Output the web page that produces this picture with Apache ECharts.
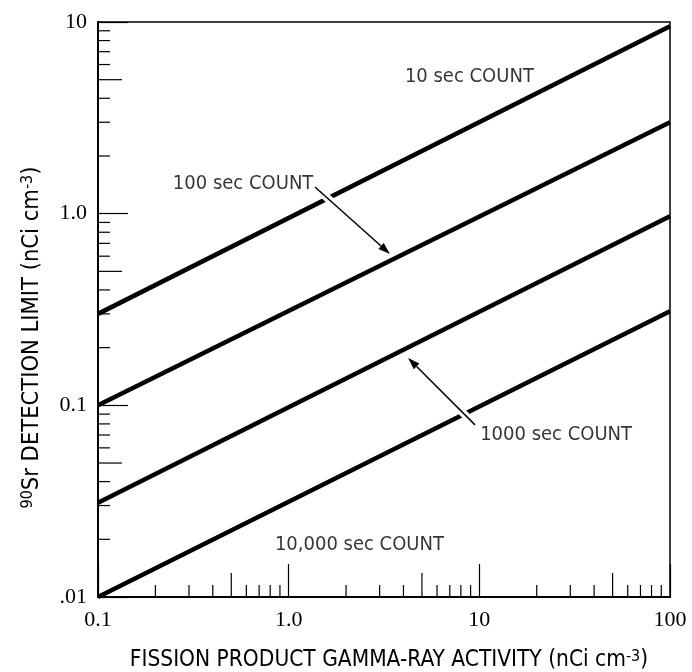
<!DOCTYPE html>
<html>
<head>
<meta charset="utf-8">
<title>90Sr detection limit</title>
<style>
  html, body { margin: 0; padding: 0; background: #fff; }
  #main { width: 692px; height: 672px; }
</style>
<script src="https://cdn.jsdelivr.net/npm/echarts@6.0.0/dist/echarts.min.js"></script>
</head>
<body>
<div id="main"></div>
<script>
// count lines: [x, y] end points
var countNames = ['10 sec COUNT', '100 sec COUNT', '1000 sec COUNT', '10,000 sec COUNT'];
var line10 = [[0.1, 0.3], [100, 9.5]];
var line100 = [[0.1, 0.1], [100, 3.0]];
var line1000 = [[0.1, 0.031], [100, 0.97]];
var line10000 = [[0.1, 0.01], [100, 0.31]];

// axis ticks and labels
var xLabels = { '0.1': '0.1', '1': '1.0', '10': '10', '100': '100' };
var yLabels = { '0.01': '.01', '0.1': '0.1', '1': '1.0', '10': '10' };
var xMinor = [0.2, 0.3, 0.4, 0.5, 0.6, 0.7, 0.8, 0.9, 2, 3, 4, 5, 6, 7, 8, 9, 20, 30, 40, 50, 60, 70, 80, 90];
var yMinor = [0.02, 0.03, 0.04, 0.05, 0.06, 0.07, 0.08, 0.09, 0.2, 0.3, 0.4, 0.5, 0.6, 0.7, 0.8, 0.9, 2, 3, 4, 5, 6, 7, 8, 9];

// annotation text (left edge, middle) and arrows [x1, y1, x2, y2]
var noteText = ['10 sec COUNT', '100 sec COUNT', '1000 sec COUNT', '10,000 sec COUNT'];
var noteX = [4.07, 0.247, 10.1, 0.847];
var noteY = [5.16, 1.43, 0.0701, 0.0187];
var arrows = [[1.374, 1.378, 3.40, 0.616], [9.49, 0.0791, 4.23, 0.1767]];

var X_MIN = 0.1, X_MAX = 100, Y_MIN = 0.01, Y_MAX = 10;
var serif = '"Liberation Serif", "DejaVu Serif", serif';
var narrow = '"Liberation Sans Narrow", "DejaVu Sans Condensed", "Liberation Sans", sans-serif';

function minorLen(v) {
  var d = Math.round(v / Math.pow(10, Math.floor(Math.log10(v) + 1e-9)));
  return d === 5 ? 24 : 12;
}

var chart = echarts.init(document.getElementById('main'));

var lineStyle = { color: '#000', width: 4.5 };
function countSeries(name, data) {
  return {
    name: name, type: 'line', data: data, symbol: 'none', z: 2,
    lineStyle: lineStyle, silent: true, animation: false
  };
}

chart.setOption({
  backgroundColor: '#fff',
  animation: false,
  grid: {
    left: 98, right: 22, top: 22, bottom: 75,
    show: true, borderColor: '#000', borderWidth: 1.5,
    outerBoundsMode: 'none'
  },
  xAxis: {
    type: 'log', logBase: 10, min: X_MIN, max: X_MAX,
    axisLine: { lineStyle: { color: '#000', width: 2 } },
    axisTick: { inside: true, length: 33, lineStyle: { color: '#000', width: 1.2 } },
    splitLine: { show: false },
    axisLabel: {
      margin: 12, color: '#000', fontFamily: serif, fontSize: 22,
      formatter: function (v) { return xLabels[String(+v.toPrecision(3))] || ''; }
    },
    name: '{t|FISSION PRODUCT GAMMA-RAY ACTIVITY (nCi cm}{s|-3}{t|)}',
    nameLocation: 'middle', nameGap: 52,
    nameTextStyle: {
      padding: [0, 0, 0, 10],
      rich: {
        t: { fontFamily: narrow, fontSize: 22.5, color: '#000' },
        s: { fontFamily: narrow, fontSize: 16, color: '#000', verticalAlign: 'top', padding: [0, 0, 6, 0] }
      }
    }
  },
  yAxis: {
    type: 'log', logBase: 10, min: Y_MIN, max: Y_MAX,
    axisLine: { lineStyle: { color: '#000', width: 2 } },
    axisTick: { inside: true, length: 30, lineStyle: { color: '#000', width: 1.2 } },
    splitLine: { show: false },
    axisLabel: {
      margin: 11, color: '#000', fontFamily: serif, fontSize: 22,
      formatter: function (v) { return yLabels[String(+v.toPrecision(3))] || ''; }
    },
    name: '{s|90}{t|Sr DETECTION LIMIT (nCi cm}{s|-3}{t|)}',
    nameLocation: 'middle', nameGap: 54, nameRotate: 90,
    nameTextStyle: {
      padding: [0, 56, 0, 0],
      rich: {
        t: { fontFamily: narrow, fontSize: 23.5, color: '#000' },
        s: { fontFamily: narrow, fontSize: 16, color: '#000', verticalAlign: 'top', padding: [0, 0, 6, 0] }
      }
    }
  },
  series: [
    countSeries(countNames[0], line10),
    countSeries(countNames[1], line100),
    countSeries(countNames[2], line1000),
    countSeries(countNames[3], line10000),
    {
      // minor ticks, bottom axis
      type: 'custom', z: 1, silent: true,
      data: xMinor.map(function (v) { return [v, Y_MIN]; }),
      renderItem: function (params, api) {
        var v = api.value(0);
        var p = api.coord([v, Y_MIN]);
        var len = minorLen(v);
        return { type: 'line', shape: { x1: p[0], y1: p[1], x2: p[0], y2: p[1] - len },
                 style: { stroke: '#000', lineWidth: 1.2 } };
      }
    },
    {
      // minor ticks, left axis
      type: 'custom', z: 1, silent: true,
      data: yMinor.map(function (v) { return [X_MIN, v]; }),
      renderItem: function (params, api) {
        var v = api.value(1);
        var p = api.coord([X_MIN, v]);
        var len = minorLen(v);
        return { type: 'line', shape: { x1: p[0], y1: p[1], x2: p[0] + len, y2: p[1] },
                 style: { stroke: '#000', lineWidth: 1.2 } };
      }
    },
    {
      // arrows with a white gap where they cross a line
      type: 'custom', z: 3, silent: true,
      data: arrows,
      encode: { x: [0, 2], y: [1, 3] },
      renderItem: function (params, api) {
        var a = api.coord([api.value(0), api.value(1)]);
        var b = api.coord([api.value(2), api.value(3)]);
        var dx = b[0] - a[0], dy = b[1] - a[1];
        var L = Math.sqrt(dx * dx + dy * dy), ux = dx / L, uy = dy / L;
        var h = 12, w = 4;
        var base = [b[0] - ux * h, b[1] - uy * h];
        return {
          type: 'group',
          children: [
            { type: 'line', shape: { x1: a[0] + dx * 0.08, y1: a[1] + dy * 0.08, x2: a[0] + dx * 0.6, y2: a[1] + dy * 0.6 },
              style: { stroke: '#fff', lineWidth: 8 } },
            { type: 'line', shape: { x1: a[0], y1: a[1], x2: base[0], y2: base[1] },
              style: { stroke: '#000', lineWidth: 1.5 } },
            { type: 'polygon', shape: { points: [b, [base[0] - uy * w, base[1] + ux * w], [base[0] + uy * w, base[1] - ux * w]] },
              style: { fill: '#000' } }
          ]
        };
      }
    },
    {
      // count labels
      type: 'scatter', z: 4, silent: true, symbolSize: 0,
      data: noteText.map(function (t, i) { return { name: t, value: [noteX[i], noteY[i]] }; }),
      label: {
        show: true, position: 'right', distance: 0, formatter: '{b}',
        fontFamily: narrow, fontSize: 20, color: '#000'
      }
    }
  ]
});
</script>
</body>
</html>
